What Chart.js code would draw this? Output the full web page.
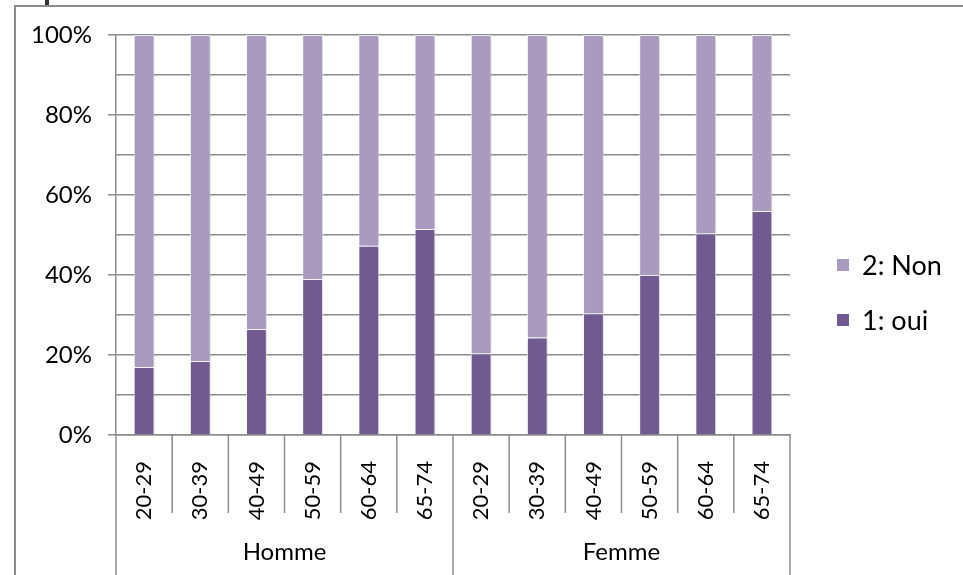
<!DOCTYPE html>
<html>
<head>
<meta charset="utf-8">
<script src="https://cdn.jsdelivr.net/npm/chart.js@4/dist/chart.umd.min.js"></script>
<style>
  body { margin: 0; background: #fff; }
  canvas { display: block; }
</style>
</head>
<body>
<canvas id="chart" width="963" height="575"></canvas>
<script>
// ---- data ----
const ages = ["20-29", "30-39", "40-49", "50-59", "60-64", "65-74"];
const groups = ["Homme", "Femme"];
const labels = [...ages, ...ages];
const ouiValues = [17, 18.5, 26.5, 39, 47.3, 51.5, 20.4, 24.4, 30.4, 40, 50.4, 56];
const nonValues = [83, 81.5, 73.5, 61, 52.7, 48.5, 79.6, 75.6, 69.6, 60, 49.6, 44];
const seriesNames = ["1: oui", "2: Non"];

const gridGray = "#8c8c8c";
const fontFamily = "Lato, 'Open Sans', sans-serif";

/* ---------------------------------------------------
    frame, group separators, group labels, legend
----------------------------------------------------- */
const decorations = {
  id: "decorations",
  beforeDraw(chart) {
    const ctx = chart.ctx;
    ctx.save();
    ctx.strokeStyle = gridGray;
    ctx.lineWidth = 2;
    ctx.beginPath();
    ctx.moveTo(15, 600);
    ctx.lineTo(15, 6);
    ctx.lineTo(1000, 6);
    ctx.stroke();
    ctx.fillStyle = "#333";
    ctx.fillRect(45, 0, 4, 5);
    ctx.restore();
  },
  beforeDatasetsDraw(chart) {
    const ctx = chart.ctx;
    ctx.save();
    ctx.shadowColor = "rgba(0,0,0,0.18)";
    ctx.shadowBlur = 4;
    ctx.shadowOffsetX = 2;
    ctx.shadowOffsetY = 1;
  },
  afterDatasetsDraw(chart) {
    chart.ctx.restore();
  },
  afterDraw(chart) {
    const { ctx, chartArea } = chart;
    const x = chart.scales.x;
    const half = (x.getPixelForValue(1) - x.getPixelForValue(0)) / 2;
    ctx.save();
    ctx.strokeStyle = gridGray;
    ctx.lineWidth = 1.5;
    for (let i = 0; i <= labels.length; i++) {
      const px = i < labels.length ? x.getPixelForValue(i) - half : x.getPixelForValue(i - 1) + half;
      const edge = i % ages.length === 0;
      ctx.beginPath();
      ctx.moveTo(px, chartArea.bottom);
      ctx.lineTo(px, edge ? 575 : 513);
      ctx.stroke();
    }
    // group labels
    ctx.fillStyle = "#000";
    ctx.font = "24px " + fontFamily;
    ctx.textAlign = "center";
    ctx.textBaseline = "middle";
    groups.forEach((g, gi) => {
      const a = x.getPixelForValue(gi * ages.length) - half;
      const b = x.getPixelForValue((gi + 1) * ages.length - 1) + half;
      ctx.fillText(g, (a + b) / 2, 552);
    });
    // legend (reversed order)
    ctx.font = "27px " + fontFamily;
    ctx.textAlign = "left";
    const legendY = [320, 265];
    chart.data.datasets.forEach((ds, di) => {
      const y = legendY[di];
      ctx.fillStyle = ds.backgroundColor;
      ctx.fillRect(836, y - 7, 14, 14);
      ctx.strokeStyle = "#fff";
      ctx.lineWidth = 1;
      ctx.strokeRect(836.5, y - 6.5, 13, 13);
      ctx.fillStyle = "#000";
      ctx.fillText(ds.label, 862, y + 1);
    });
    ctx.restore();
  }
};

new Chart(document.getElementById("chart"), {
  type: "bar",
  data: {
    labels: labels,
    datasets: [
      {
        label: seriesNames[0],
        data: ouiValues,
        backgroundColor: "#705a8f",
        borderColor: "rgba(255,255,255,0.85)",
        borderWidth: 1,
        categoryPercentage: 1,
        barPercentage: 0.37,
      },
      {
        label: seriesNames[1],
        data: nonValues,
        backgroundColor: "#a99bc0",
        borderColor: "rgba(255,255,255,0.85)",
        borderWidth: 1,
        categoryPercentage: 1,
        barPercentage: 0.37,
      },
    ],
  },
  options: {
    responsive: false,
    animation: false,
    layout: { padding: { top: 35, right: 173, bottom: 0, left: 0 } },
    plugins: {
      legend: { display: false },
      tooltip: { enabled: false },
    },
    scales: {
      x: {
        stacked: true,
        afterFit(scale) { scale.height = 140; },
        grid: { display: false },
        border: { display: true, color: gridGray, width: 1.5 },
        ticks: {
          autoSkip: false,
          minRotation: 90,
          maxRotation: 90,
          padding: 18,
          color: "#000",
          font: { family: fontFamily, size: 22 },
        },
      },
      y: {
        stacked: true,
        min: 0,
        max: 100,
        afterFit(scale) { scale.width = 116; },
        border: { display: true, color: gridGray, width: 1.5 },
        grid: {
          color: gridGray,
          lineWidth: 1.5,
          tickLength: 8,
          tickColor: (c) => (c.tick && c.tick.value % 20 === 0 ? gridGray : "rgba(0,0,0,0)"),
        },
        ticks: {
          stepSize: 10,
          padding: 16,
          color: "#000",
          font: { family: fontFamily, size: 24 },
          callback: (v) => (v % 20 === 0 ? v + "%" : ""),
        },
      },
    },
  },
  plugins: [decorations],
});
</script>
</body>
</html>
